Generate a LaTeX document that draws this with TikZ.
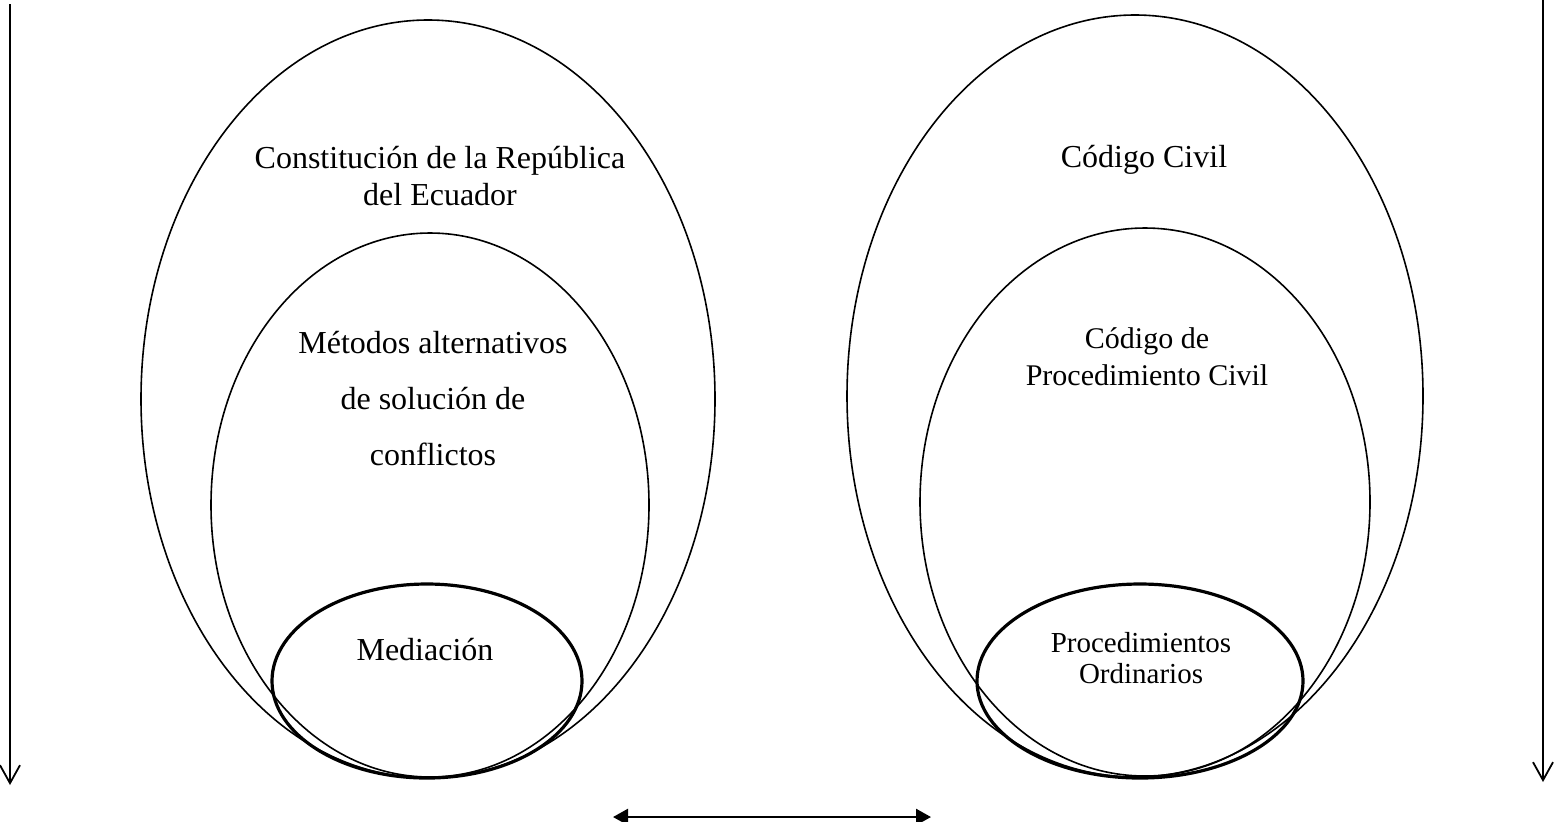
\documentclass[tikz,border=0pt]{standalone}
\usepackage{fontspec}
\setmainfont{Liberation Serif}
\usetikzlibrary{shapes.geometric}
\usetikzlibrary{arrows.meta}

\tikzset{
  oval/.style={draw,ellipse,inner sep=0pt,line width=0.8pt},
  boldoval/.style={oval,line width=1.6pt},
  txt/.style={anchor=base,align=center,font=\fontsize{16}{18.5}\selectfont},
  down/.style={-{Straight Barb[length=9pt,width=10pt]},line width=0.9pt},
  both/.style={{Triangle[length=7.5pt,width=8pt]}-{Triangle[length=7.5pt,width=8pt]},line width=1.3pt},
}

\begin{document}
\begin{tikzpicture}[x=0.5pt,y=-0.5pt]
\useasboundingbox (0,0) rectangle (1556,821);
% left side
\node [oval,minimum width=287pt,minimum height=379pt] (constitucionoval) at (428,399) {};
\node [oval,minimum width=219pt,minimum height=272pt] (metodosoval) at (430,505) {};
\node [boldoval,minimum width=155pt,minimum height=97pt] (mediacionoval) at (427,681) {};
\node [txt] (constitucion) at (440,205) {Constitución de la República\\del Ecuador};
\node [txt,font=\fontsize{16}{28}\selectfont] (metodos) at (433,465) {Métodos alternativos\\de solución de\\conflictos};
\node [txt] (mediacion) at (425,660) {Mediación};
% right side
\node [oval,minimum width=288pt,minimum height=381pt] (civiloval) at (1135,396) {};
\node [oval,minimum width=225pt,minimum height=274pt] (procivoval) at (1145,502) {};
\node [boldoval,minimum width=163pt,minimum height=97pt] (ordinariosoval) at (1140,681) {};
\node [txt] (civil) at (1144,167) {Código Civil};
\node [txt,font=\fontsize{15}{18.5}\selectfont] (procivil) at (1147,385) {Código de\\Procedimiento Civil};
\node [txt,font=\fontsize{14.5}{15.5}\selectfont] (ordinarios) at (1141,683) {Procedimientos\\Ordinarios};
% arrows
\coordinate (lefttop) at (10,4);
\coordinate (leftend) at (10,785);
\coordinate (righttop) at (1543,0);
\coordinate (rightend) at (1543,782);
\coordinate (midleft) at (613,817);
\coordinate (midright) at (931,817);
\draw [down] (lefttop) -- (leftend);
\draw [down] (righttop) -- (rightend);
\draw [both] (midleft) -- (midright);
\end{tikzpicture}
\end{document}
